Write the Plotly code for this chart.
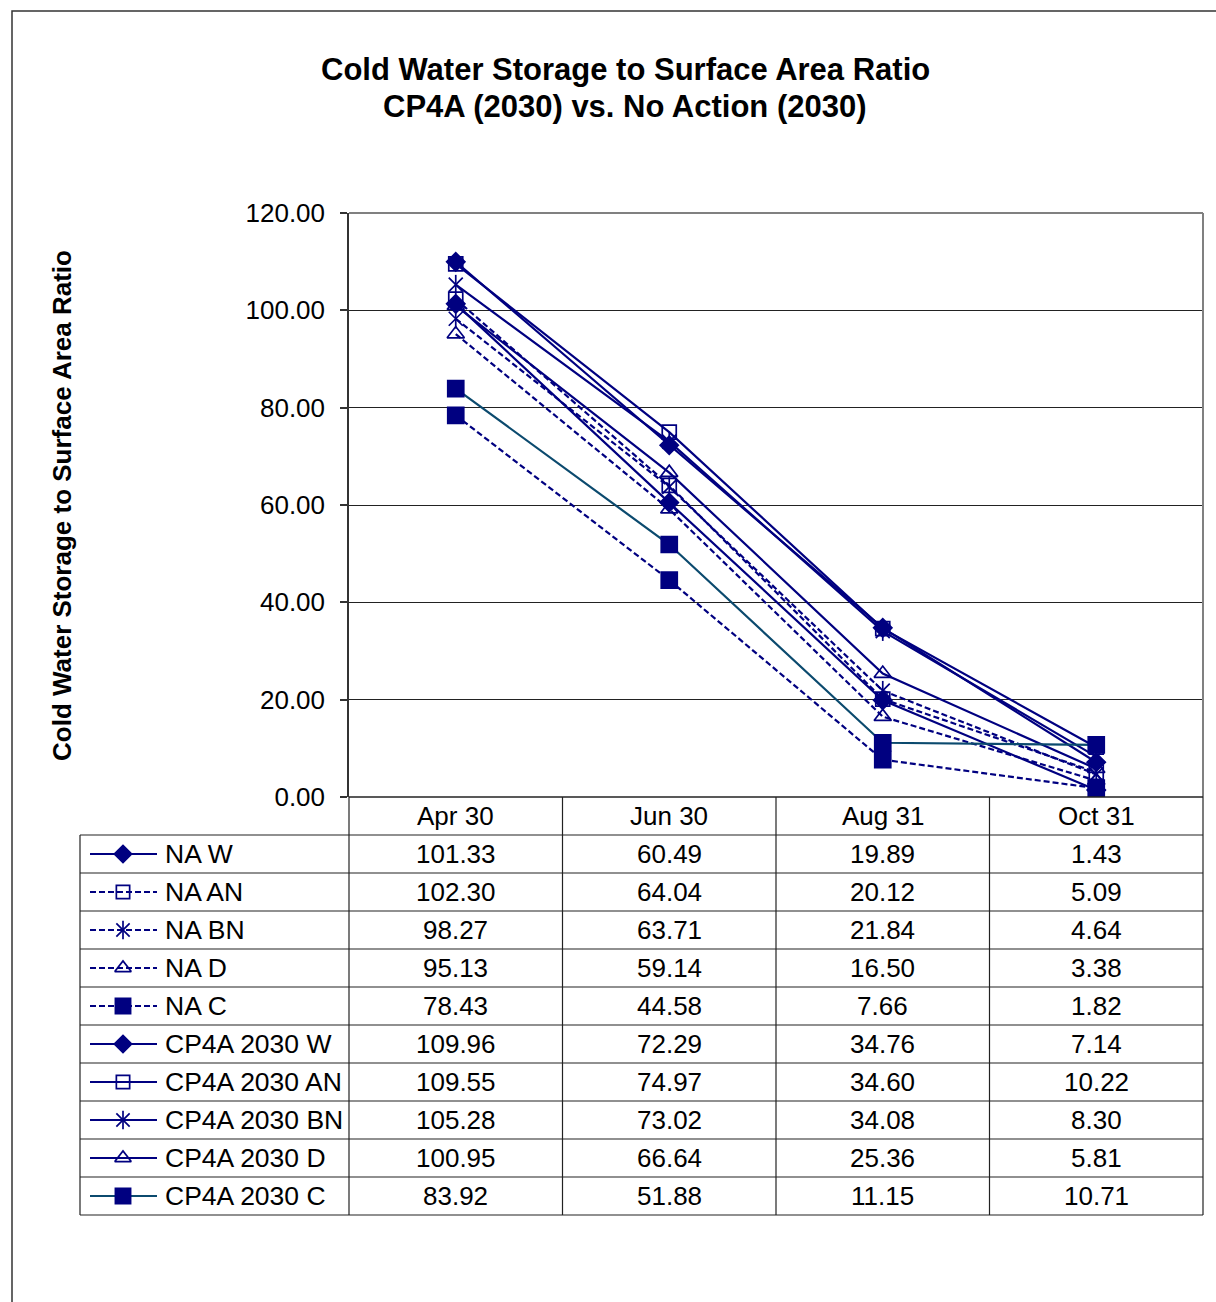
import plotly.graph_objects as go

# ---------------- data ----------------
categories = ["Apr 30", "Jun 30", "Aug 31", "Oct 31"]

series_names = ["NA W", "NA AN", "NA BN", "NA D", "NA C",
                "CP4A 2030 W", "CP4A 2030 AN", "CP4A 2030 BN", "CP4A 2030 D", "CP4A 2030 C"]

na_w = [101.33, 60.49, 19.89, 1.43]
na_an = [102.30, 64.04, 20.12, 5.09]
na_bn = [98.27, 63.71, 21.84, 4.64]
na_d = [95.13, 59.14, 16.50, 3.38]
na_c = [78.43, 44.58, 7.66, 1.82]
cp_w = [109.96, 72.29, 34.76, 7.14]
cp_an = [109.55, 74.97, 34.60, 10.22]
cp_bn = [105.28, 73.02, 34.08, 8.30]
cp_d = [100.95, 66.64, 25.36, 5.81]
cp_c = [83.92, 51.88, 11.15, 10.71]

series_values = [na_w, na_an, na_bn, na_d, na_c, cp_w, cp_an, cp_bn, cp_d, cp_c]

y_ticks = [0, 20, 40, 60, 80, 100, 120]

title_line1 = "Cold Water Storage to Surface Area Ratio"
title_line2 = "CP4A (2030) vs. No Action (2030)"
y_title = "Cold Water Storage to Surface Area Ratio"

# ---------------- styles ----------------
NAVY = "#000080"
TEAL = "#0b4a6e"
DASH = "6px,3px"
FONT = "Liberation Sans, Arial, sans-serif"

styles = [
    dict(color=NAVY, dash="solid", symbol="diamond", size=14),
    dict(color=NAVY, dash=DASH, symbol="square-open", size=14),
    dict(color=NAVY, dash=DASH, symbol="asterisk", size=14),
    dict(color=NAVY, dash=DASH, symbol="triangle-up-open", size=15),
    dict(color=NAVY, dash=DASH, symbol="square", size=16),
    dict(color=NAVY, dash="solid", symbol="diamond", size=14),
    dict(color=NAVY, dash="solid", symbol="square-open", size=14),
    dict(color=NAVY, dash="solid", symbol="asterisk", size=14),
    dict(color=NAVY, dash="solid", symbol="triangle-up-open", size=15),
    dict(color=TEAL, dash="solid", symbol="square", size=16),
]

W, H = 1216, 1302


def fx(x):
    return x / W


def fy(y):
    return 1 - y / H


PLOT_L, PLOT_R, PLOT_T, PLOT_B = 349, 1203, 213, 797
TABLE_L = 80
HEADER_B = 835
ROW_H = 38
n_rows = len(series_names)
TABLE_B = HEADER_B + ROW_H * n_rows
col_w = (PLOT_R - PLOT_L) / len(categories)
col_edges = [PLOT_L + i * col_w for i in range(len(categories) + 1)]

fig = go.Figure()


def add_markers(xs, ys, st, xaxis="x", yaxis="y", scale=1.0):
    sz = st["size"] * scale
    if st["symbol"] == "asterisk":
        for sym in ["x-thin-open", "line-ns-open"]:
            fig.add_trace(go.Scatter(
                x=xs, y=ys, mode="markers", xaxis=xaxis, yaxis=yaxis,
                marker=dict(symbol=sym, size=sz, color=NAVY,
                            line=dict(color=NAVY, width=1.7)),
                showlegend=False, hoverinfo="skip"))
    else:
        fig.add_trace(go.Scatter(
            x=xs, y=ys, mode="markers", xaxis=xaxis, yaxis=yaxis,
            marker=dict(symbol=st["symbol"], size=sz, color=NAVY,
                        line=dict(color=NAVY, width=1.7)),
            showlegend=False, hoverinfo="skip"))


# main series
for name, vals, st in zip(series_names, series_values, styles):
    fig.add_trace(go.Scatter(
        x=categories, y=vals, mode="lines", name=name,
        line=dict(color=st["color"], width=2.2, dash=st["dash"]),
        showlegend=False, hoverinfo="x+y+name"))
    add_markers(categories, vals, st)

# legend keys inside the data table (overlay pixel axis)
KEY_X0, KEY_XM, KEY_X1 = 90, 123, 157
for i, st in enumerate(styles):
    yc = HEADER_B + ROW_H * i + ROW_H / 2
    fig.add_trace(go.Scatter(
        x=[KEY_X0, KEY_X1], y=[yc, yc], mode="lines", xaxis="x2", yaxis="y2",
        line=dict(color=st["color"], width=2.2, dash=st["dash"]),
        showlegend=False, hoverinfo="skip"))
    add_markers([KEY_XM], [yc], st, xaxis="x2", yaxis="y2", scale=0.95)

shapes = []
# outer chart border
shapes.append(dict(type="rect", xref="paper", yref="paper",
                   x0=fx(12), x1=fx(W + 20), y0=fy(H + 20), y1=fy(11),
                   line=dict(color="#333333", width=1.5), layer="below"))
# plot area top / right border (gray)
shapes.append(dict(type="line", xref="paper", yref="paper",
                   x0=fx(PLOT_L), x1=fx(PLOT_R), y0=fy(PLOT_T), y1=fy(PLOT_T),
                   line=dict(color="#808080", width=2)))
shapes.append(dict(type="line", xref="paper", yref="paper",
                   x0=fx(PLOT_R), x1=fx(PLOT_R), y0=fy(PLOT_T), y1=fy(PLOT_B),
                   line=dict(color="#808080", width=2)))
# table horizontal lines
shapes.append(dict(type="line", xref="paper", yref="paper",
                   x0=fx(PLOT_L), x1=fx(PLOT_R), y0=fy(PLOT_B), y1=fy(PLOT_B),
                   line=dict(color="#222222", width=1.5)))
for r in range(n_rows + 1):
    yy = HEADER_B + r * ROW_H
    shapes.append(dict(type="line", xref="paper", yref="paper",
                       x0=fx(TABLE_L), x1=fx(PLOT_R), y0=fy(yy), y1=fy(yy),
                       line=dict(color="#222222", width=1.2)))
# table vertical lines
shapes.append(dict(type="line", xref="paper", yref="paper",
                   x0=fx(TABLE_L), x1=fx(TABLE_L), y0=fy(HEADER_B), y1=fy(TABLE_B),
                   line=dict(color="#222222", width=1.2)))
for xe in col_edges:
    shapes.append(dict(type="line", xref="paper", yref="paper",
                       x0=fx(xe), x1=fx(xe), y0=fy(PLOT_B), y1=fy(TABLE_B),
                       line=dict(color="#222222", width=1.2)))

annotations = []
# titles
annotations.append(dict(text=f"<b>{title_line1}</b>", xref="paper", yref="paper",
                        x=fx(625), y=fy(70), xanchor="center", yanchor="middle",
                        showarrow=False, font=dict(family=FONT, size=31, color="black")))
annotations.append(dict(text=f"<b>{title_line2}</b>", xref="paper", yref="paper",
                        x=fx(625), y=fy(106), xanchor="center", yanchor="middle",
                        showarrow=False, font=dict(family=FONT, size=31, color="black")))
annotations.append(dict(text=f"<b>{y_title}</b>", xref="paper", yref="paper",
                        x=fx(62), y=fy(506), xanchor="center", yanchor="middle",
                        textangle=-90, showarrow=False,
                        font=dict(family=FONT, size=26, color="black")))
# header row
for j, cat in enumerate(categories):
    annotations.append(dict(text=cat, xref="paper", yref="paper",
                            x=fx(col_edges[j] + col_w / 2), y=fy((PLOT_B + HEADER_B) / 2),
                            xanchor="center", yanchor="middle", showarrow=False,
                            font=dict(family=FONT, size=26, color="black")))
# table body
for i, (name, vals) in enumerate(zip(series_names, series_values)):
    yc = HEADER_B + ROW_H * i + ROW_H / 2
    annotations.append(dict(text=name, xref="paper", yref="paper",
                            x=fx(163), y=fy(yc), xanchor="left", yanchor="middle",
                            showarrow=False, font=dict(family=FONT, size=26.5, color="black")))
    for j, v in enumerate(vals):
        annotations.append(dict(text=f"{v:.2f}", xref="paper", yref="paper",
                                x=fx(col_edges[j] + col_w / 2), y=fy(yc),
                                xanchor="center", yanchor="middle", showarrow=False,
                                font=dict(family=FONT, size=26, color="black")))

fig.update_layout(
    width=W, height=H,
    margin=dict(l=0, r=0, t=0, b=0, pad=0, autoexpand=False),
    paper_bgcolor="white",
    plot_bgcolor="rgba(0,0,0,0)",
    showlegend=False,
    font=dict(family=FONT, color="black"),
    xaxis=dict(domain=[fx(PLOT_L), fx(PLOT_R)], type="category",
               categoryorder="array", categoryarray=categories,
               range=[-0.5, len(categories) - 0.5],
               showticklabels=False, showgrid=False, zeroline=False,
               showline=False, ticks="", anchor="y", automargin=False),
    yaxis=dict(domain=[fy(PLOT_B), fy(PLOT_T)], range=[0, 120],
               tickvals=y_ticks, tickformat=".2f",
               ticks="outside", ticklen=7, tickcolor="#333333", tickwidth=1.5,
               ticklabelstandoff=10,
               tickfont=dict(family=FONT, size=26, color="black"),
               showgrid=True, gridcolor="#222222", gridwidth=1,
               zeroline=False, showline=True, linecolor="#333333", linewidth=1.5,
               anchor="x", automargin=False),
    xaxis2=dict(domain=[0, 1], range=[0, W], visible=False, anchor="y2",
                automargin=False, showticklabels=False),
    yaxis2=dict(domain=[0, 1], range=[H, 0], visible=False, anchor="x2",
                automargin=False, showticklabels=False),
    shapes=shapes,
    annotations=annotations,
)

fig.write_html("out.html", config={"displayModeBar": False},
               post_script="document.body.style.margin='0';")
